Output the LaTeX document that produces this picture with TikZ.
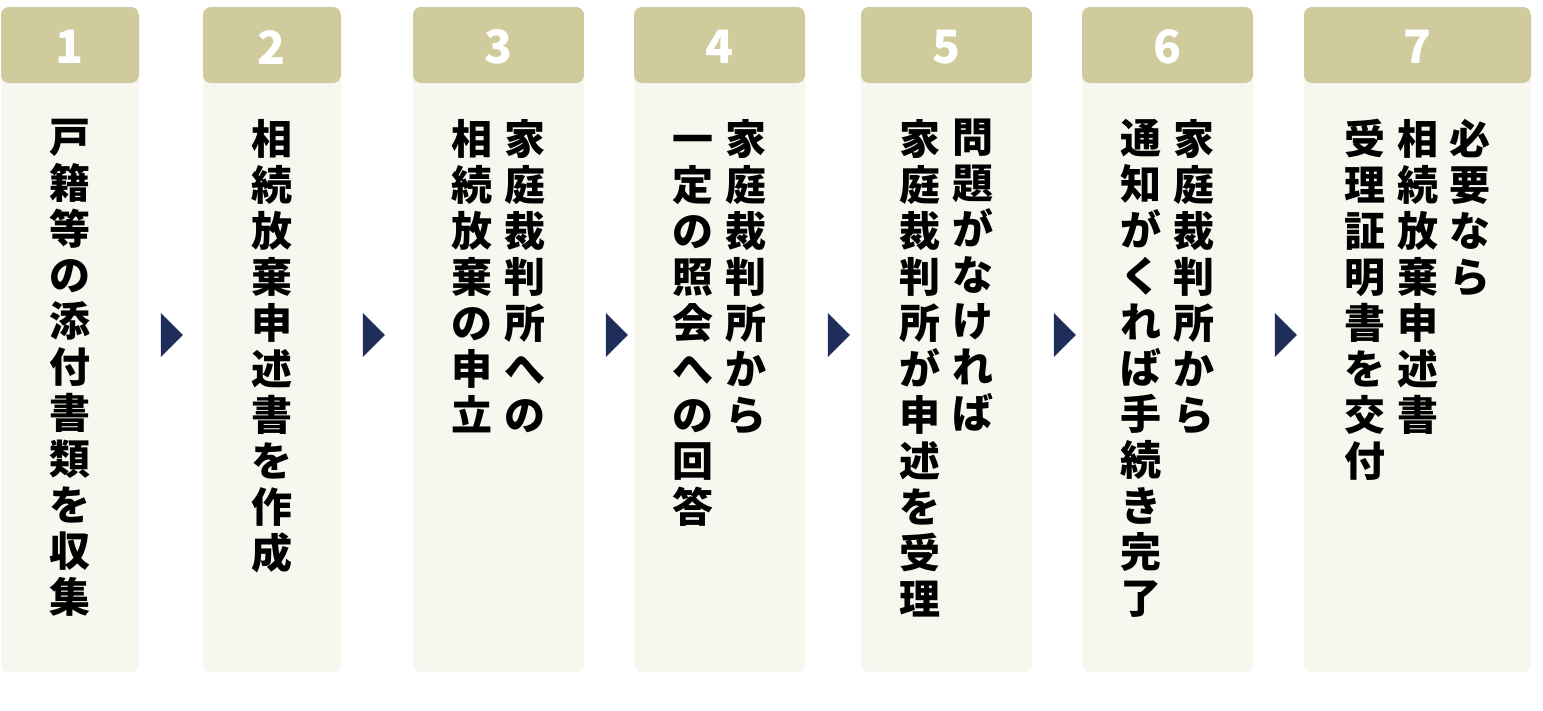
\documentclass[tikz,border=0pt]{standalone}
\usepackage{fontspec}
\setmainfont{Noto Sans CJK JP}
\usepackage{tikz}
\usetikzlibrary{shapes.geometric}
\definecolor{headtan}{HTML}{D0CB9D}
\definecolor{cardbg}{HTML}{F7F7F0}
\definecolor{navy}{HTML}{1E2D5A}
\tikzset{
  card/.style={rounded corners=8pt, fill=cardbg, inner sep=0pt, minimum height=665pt,
    path picture={\fill[headtan] (path picture bounding box.north west) rectangle ([yshift=-76pt]path picture bounding box.north east);}},
  stepnum/.style={text=white, font=\fontsize{46}{46}\selectfont\bfseries, inner sep=0pt},
  tatecol/.style={anchor=north, align=center, inner sep=0pt, text=black, font=\fontsize{41}{46}\selectfont\bfseries},
  nextarrow/.style={isosceles triangle, isosceles triangle stretches, fill=navy, inner sep=0pt, minimum height=22pt, minimum width=44pt}
}
\begin{document}
\begin{tikzpicture}[x=1pt, y=-1pt]
  \useasboundingbox (0,0) rectangle (1543,710);

  % cards
  \node[card, minimum width=138pt] (card1) at (70,339.5) {};
  \node[card, minimum width=138pt] (card2) at (272,339.5) {};
  \node[card, minimum width=171pt] (card3) at (498.5,339.5) {};
  \node[card, minimum width=171pt] (card4) at (719.5,339.5) {};
  \node[card, minimum width=171pt] (card5) at (946.5,339.5) {};
  \node[card, minimum width=171pt] (card6) at (1167.5,339.5) {};
  \node[card, minimum width=227pt] (card7) at (1417.5,339.5) {};

  % step numbers
  \node[stepnum] (num1) at (70,47) {1};
  \node[stepnum] (num2) at (272,47) {2};
  \node[stepnum] (num3) at (498.5,47) {3};
  \node[stepnum] (num4) at (719.5,47) {4};
  \node[stepnum] (num5) at (946.5,47) {5};
  \node[stepnum] (num6) at (1167.5,47) {6};
  \node[stepnum] (num7) at (1417.5,47) {7};

  % vertical text, right column first
  \node[tatecol] (col1) at (70,119) {戸\\籍\\等\\の\\添\\付\\書\\類\\を\\収\\集};
  \node[tatecol] (col2) at (272,119) {相\\続\\放\\棄\\申\\述\\書\\を\\作\\成};
  \node[tatecol] (col3a) at (525,119) {家\\庭\\裁\\判\\所\\へ\\の};
  \node[tatecol] (col3b) at (472,119) {相\\続\\放\\棄\\の\\申\\立};
  \node[tatecol] (col4a) at (746,119) {家\\庭\\裁\\判\\所\\か\\ら};
  \node[tatecol] (col4b) at (693,119) {\rule{0pt}{35pt}一\\定\\の\\照\\会\\へ\\の\\回\\答};
  \node[tatecol] (col5a) at (973,119) {問\\題\\が\\な\\け\\れ\\ば};
  \node[tatecol] (col5b) at (920,119) {家\\庭\\裁\\判\\所\\が\\申\\述\\を\\受\\理};
  \node[tatecol] (col6a) at (1194,119) {家\\庭\\裁\\判\\所\\か\\ら};
  \node[tatecol] (col6b) at (1141,119) {通\\知\\が\\く\\れ\\ば\\手\\続\\き\\完\\了};
  \node[tatecol] (col7a) at (1470,119) {必\\要\\な\\ら};
  \node[tatecol] (col7b) at (1417.5,119) {相\\続\\放\\棄\\申\\述\\書};
  \node[tatecol] (col7c) at (1365,119) {受\\理\\証\\明\\書\\を\\交\\付};

  % arrows between steps
  \node[nextarrow] (arr1) at (170,335) {};
  \node[nextarrow] (arr2) at (372,335) {};
  \node[nextarrow] (arr3) at (615,335) {};
  \node[nextarrow] (arr4) at (837,335) {};
  \node[nextarrow] (arr5) at (1063,335) {};
  \node[nextarrow] (arr6) at (1284,335) {};
\end{tikzpicture}
\end{document}
